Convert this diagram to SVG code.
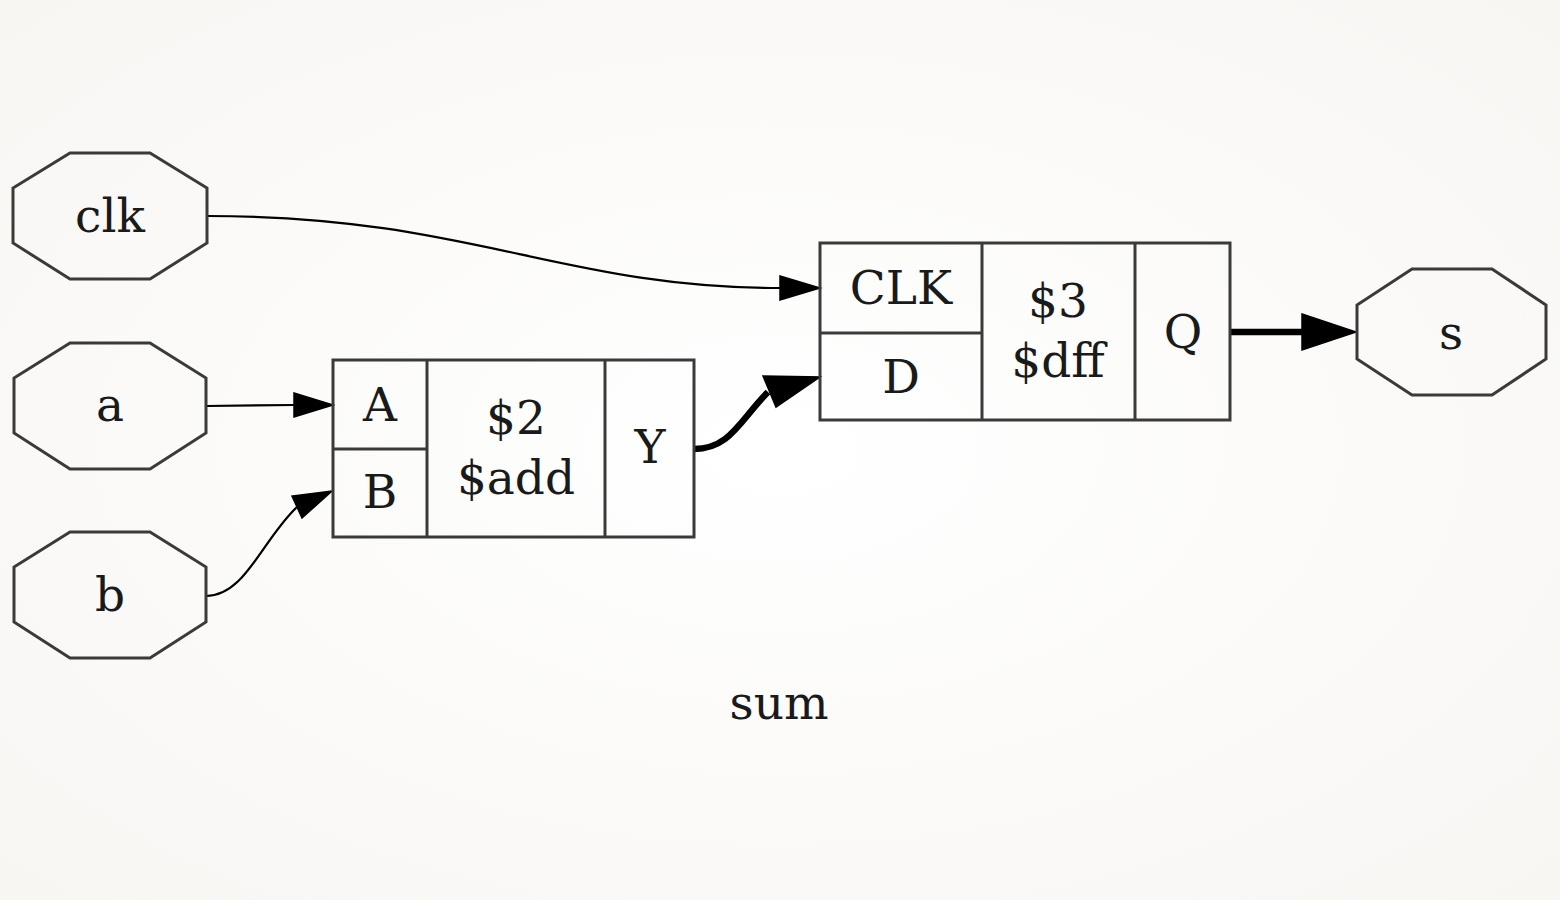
<svg xmlns="http://www.w3.org/2000/svg" width="1560" height="900" viewBox="0 0 1560 900">
<defs>
<radialGradient id="bg" cx="50%" cy="50%" r="70%">
<stop offset="0" stop-color="#ffffff"/>
<stop offset="1" stop-color="#f7f6f3"/>
</radialGradient>
<style>
.n{fill:none;stroke:#3a3a3a;stroke-width:3}
.t{font-family:"DejaVu Serif",serif;font-size:47px;fill:#1a1a1a;text-anchor:middle}
.e{fill:none;stroke:#000;stroke-width:2.2}
.ek{fill:none;stroke:#000;stroke-width:6.5}
.ah{fill:#000;stroke:#000;stroke-width:1.5}
</style>
</defs>
<rect width="1560" height="900" fill="url(#bg)"/>
<g id="connectors">
<path class="e" d="M207,216 C470,216 560,288 780,288"/>
<polygon class="ah" points="780,276 820,288 780,300"/>
<path class="e" d="M206,406 L294,405"/>
<polygon class="ah" points="294,393 333,405 294,417"/>
<path class="e" d="M206,596 C245,596 262,540 297,507"/>
<polygon class="ah" points="302,518 332,491 292,496"/>
<path class="ek" d="M694,449 C730,449 740,420 768,392"/>
<polygon class="ah" points="763,376 820,377 776,407"/>
<path class="ek" d="M1230,332 L1304,332"/>
<polygon class="ah" points="1302,314 1356,332 1302,350"/>
</g>
<g id="clk">
<polygon class="n" points="70,153 150,153 207,188 207,243 150,279 70,279 13,243 13,188"/>
<text class="t" x="110" y="232">clk</text>
</g>
<g id="a">
<polygon class="n" points="70,343 150,343 206,378 206,433 150,469 70,469 14,433 14,378"/>
<text class="t" x="110" y="421">a</text>
</g>
<g id="b">
<polygon class="n" points="70,532 150,532 206,567 206,622 150,658 70,658 14,622 14,567"/>
<text class="t" x="110" y="611">b</text>
</g>
<g id="s">
<polygon class="n" points="1412,269 1492,269 1546,305 1546,359 1492,395 1412,395 1357,359 1357,305"/>
<text class="t" x="1451" y="349">s</text>
</g>
<g id="add">
<rect class="n" x="333" y="360" width="361" height="177"/>
<line class="n" x1="427" y1="360" x2="427" y2="537"/>
<line class="n" x1="605" y1="360" x2="605" y2="537"/>
<line class="n" x1="333" y1="449" x2="427" y2="449"/>
<text class="t" x="380" y="421">A</text>
<text class="t" x="380" y="508">B</text>
<text class="t" x="516" y="434">$2</text>
<text class="t" x="516" y="494">$add</text>
<text class="t" x="650" y="463">Y</text>
</g>
<g id="dff">
<rect class="n" x="820" y="243" width="410" height="177"/>
<line class="n" x1="982" y1="243" x2="982" y2="420"/>
<line class="n" x1="1135" y1="243" x2="1135" y2="420"/>
<line class="n" x1="820" y1="333" x2="982" y2="333"/>
<text class="t" x="901" y="304">CLK</text>
<text class="t" x="901" y="393">D</text>
<text class="t" x="1058" y="317">$3</text>
<text class="t" x="1058" y="377">$dff</text>
<text class="t" x="1183" y="348">Q</text>
</g>
<text class="t" x="779" y="719">sum</text>
</svg>
